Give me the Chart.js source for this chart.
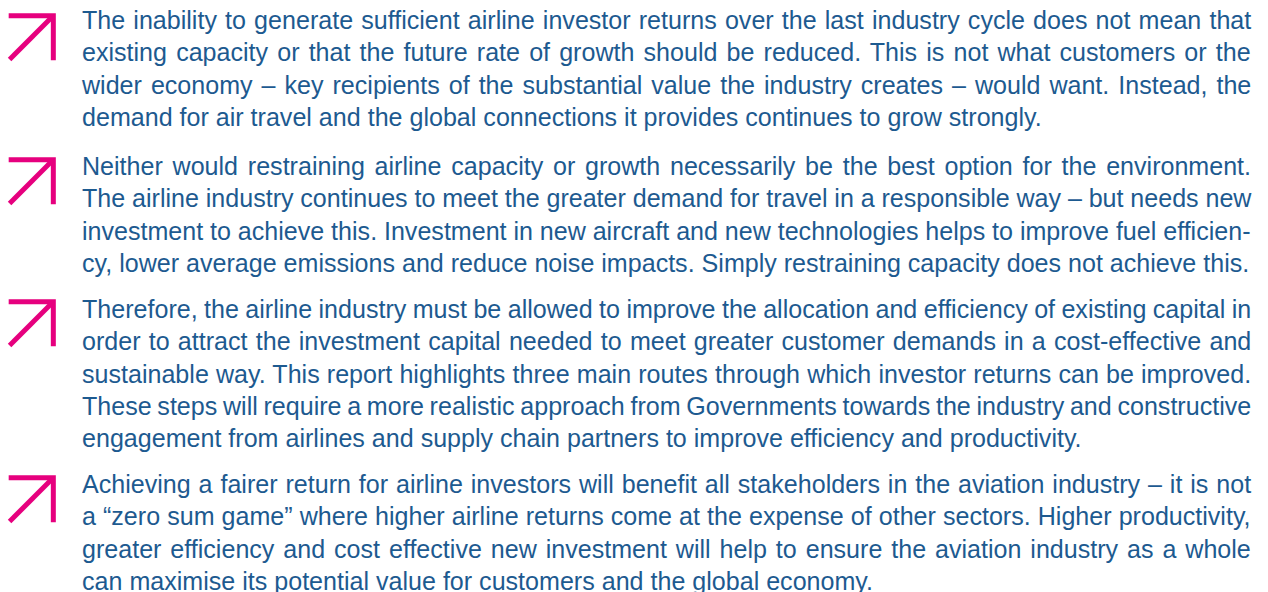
<!DOCTYPE html>
<html>
<head>
<meta charset="utf-8">
<script src="https://cdn.jsdelivr.net/npm/chart.js"></script>
<style>
  html, body { margin: 0; padding: 0; background: #fff; }
  body { width: 1268px; height: 592px; overflow: hidden; position: relative;
         font-family: "Liberation Sans", Arial, sans-serif; color: #1d5a90; }
  .para { position: absolute; left: 0; width: 1268px; }
  .arrow { position: absolute; left: 6px; width: 50px; height: 50px; }
  .line { position: absolute; left: 82px; white-space: nowrap; font-size: 26px;
          line-height: 32px; transform-origin: 0 0; }
</style>
</head>
<body>
<script>
// paragraph text, one entry per printed line
para1 = [
  "The inability to generate sufficient airline investor returns over the last industry cycle does not mean that",
  "existing capacity or that the future rate of growth should be reduced. This is not what customers or the",
  "wider economy – key recipients of the substantial value the industry creates – would want. Instead, the",
  "demand for air travel and the global connections it provides continues to grow strongly."
];
para2 = [
  "Neither would restraining airline capacity or growth necessarily be the best option for the environment.",
  "The airline industry continues to meet the greater demand for travel in a responsible way – but needs new",
  "investment to achieve this. Investment in new aircraft and new technologies helps to improve fuel efficien-",
  "cy, lower average emissions and reduce noise impacts. Simply restraining capacity does not achieve this."
];
para3 = [
  "Therefore, the airline industry must be allowed to improve the allocation and efficiency of existing capital in",
  "order to attract the investment capital needed to meet greater customer demands in a cost-effective and",
  "sustainable way. This report highlights three main routes through which investor returns can be improved.",
  "These steps will require a more realistic approach from Governments towards the industry and constructive",
  "engagement from airlines and supply chain partners to improve efficiency and productivity."
];
para4 = [
  "Achieving a fairer return for airline investors will benefit all stakeholders in the aviation industry – it is not",
  "a “zero sum game” where higher airline returns come at the expense of other sectors. Higher productivity,",
  "greater efficiency and cost effective new investment will help to ensure the aviation industry as a whole",
  "can maximise its potential value for customers and the global economy."
];
paragraphs = [para1, para2, para3, para4];
paraTops = [4, 150, 293, 468];
arrowTops = [13, 157, 299, 475];

// arrow mark in unit coordinates: diagonal shaft + right-angle head
arrowShaft = [{x: 0.02, y: 0.02}, {x: 0.97, y: 0.97}];
arrowHead = [{x: 0, y: 1}, {x: 1, y: 1}, {x: 1, y: 0}];

var pink = "#e6007e";
var lineH = 32.3;
var textWidth = 1169;

// measure a reference line to get the horizontal squeeze of the face
var probe = document.createElement("span");
probe.className = "line";
probe.textContent = para4[3];
document.body.appendChild(probe);
var squeeze = 791 / probe.getBoundingClientRect().width;
probe.remove();

paragraphs.forEach(function(lines, p) {
  var box = document.createElement("div");
  box.className = "para";
  box.style.top = paraTops[p] + "px";
  document.body.appendChild(box);

  var cv = document.createElement("canvas");
  cv.className = "arrow";
  cv.width = 50; cv.height = 50;
  cv.style.top = (arrowTops[p] - paraTops[p]) + "px";
  box.appendChild(cv);
  new Chart(cv, {
    type: "scatter",
    data: {
      datasets: [
        { data: arrowShaft, showLine: true, borderColor: pink, borderWidth: 5, pointRadius: 0,
          borderCapStyle: "butt" },
        { data: arrowHead, showLine: true, borderColor: pink, borderWidth: 5, pointRadius: 0,
          borderJoinStyle: "miter", borderCapStyle: "butt" }
      ]
    },
    options: {
      responsive: false, animation: false,
      layout: { padding: 0 },
      plugins: { legend: { display: false }, tooltip: { enabled: false } },
      scales: {
        x: { display: false, min: -0.06, max: 1.06 },
        y: { display: false, min: -0.06, max: 1.06 }
      }
    }
  });

  lines.forEach(function(txt, i) {
    var el = document.createElement("div");
    el.className = "line";
    el.textContent = txt;
    el.style.top = (i * lineH) + "px";
    el.style.transform = "scaleX(" + squeeze + ")";
    box.appendChild(el);
    if (i < lines.length - 1) {
      var w = el.scrollWidth;
      var gaps = txt.split(" ").length - 1;
      el.style.wordSpacing = ((textWidth / squeeze - w) / gaps) + "px";
    }
  });
});
</script>
</body>
</html>
